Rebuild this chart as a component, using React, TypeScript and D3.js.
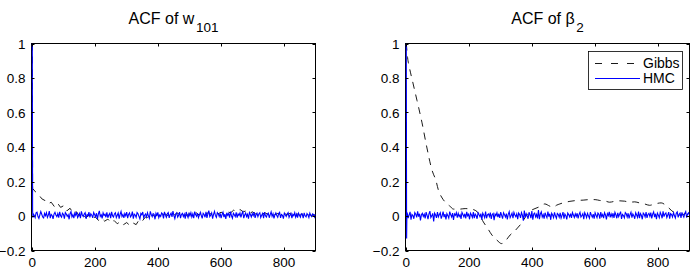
import React from 'react';
import * as d3 from 'd3';

const yTicks = [-0.2, 0, 0.2, 0.4, 0.6, 0.8, 1];
const yTickLabels = ['−0.2', '0', '0.2', '0.4', '0.6', '0.8', '1'];
const xTicks = [0, 200, 400, 600, 800];
const xTickLabels = ['0', '200', '400', '600', '800'];
const legendLabels = ['Gibbs', 'HMC'];
const xDomain = [0, 900];
const yDomain = [-0.2, 1];

// HMC autocorrelations: lags 0,1,2 individually, then every 3 lags from lag 3
const hmcHeadLags = [0, 1, 2];
const hmcW101Head = [1, 0.03, -0.01];
const hmcBeta2Head = [1, -0.13, 0.02];
const hmcTailStart = 3;
const hmcTailStep = 3;
const hmcW101Tail = [
  .012,.004,-.009,.018,.022,-.003,-.014,.007,.026,.01,-.006,-.011,.015,.002,.019,-.008,.005,.028,-.012,.009,
  .003,-.017,.011,.021,.006,-.004,.014,-.01,.024,.001,-.007,.016,.009,-.015,.02,.012,-.002,.007,-.019,.013,
  .025,-.005,.008,-.012,.017,.004,.022,-.009,.001,.015,-.013,.027,.006,-.003,.011,.019,-.016,.008,.002,.023,
  -.008,.013,.005,-.011,.02,.009,-.004,.016,-.018,.012,.03,-.002,.007,-.014,.018,.003,.01,-.007,.021,-.01,
  .006,.015,-.013,.024,.002,-.006,.012,.019,-.009,.004,.017,-.015,.01,.026,-.003,.008,-.011,.014,.001,.022,
  -.012,.009,.018,-.005,.003,.025,-.016,.011,.006,-.008,.02,.013,-.002,-.017,.015,.007,.023,-.01,.004,.012,
  -.006,.019,.001,-.013,.027,.008,-.004,.014,.01,-.019,.016,.003,.021,-.009,.006,-.002,.018,.011,-.014,.024,
  .005,-.008,.013,.02,-.011,.007,.016,-.005,.029,.002,-.015,.01,.018,-.007,.004,.022,-.012,.009,.015,-.003,
  .011,-.016,.023,.006,-.009,.014,.001,.019,-.006,.012,-.013,.025,.008,-.002,.017,-.01,.005,.021,.003,-.014,
  .016,.009,-.007,.024,-.011,.013,.031,-.004,.006,.018,-.015,.01,.027,.002,-.008,.02,.012,-.003,.015,-.012,
  .008,.022,-.006,.011,-.017,.019,.004,.014,-.009,.026,.001,-.013,.016,.007,-.004,.021,-.01,.012,.003,.018,
  -.008,.013,.024,-.012,.006,.017,-.003,.01,-.015,.02,.009,-.006,.014,.002,.023,-.011,.007,.016,-.004,.012,
  .019,-.009,.005,.015,-.013,.022,.001,-.006,.011,.017,-.01,.008,.024,-.002,.013,-.014,.006,.018,.003,-.007,
  .014,.021,-.011,.009,.004,-.015,.017,.007,-.003,.012,.02,-.008,.005,.015,-.012,.01,.002,.019,-.006,.011,
  -.01,.016,.004,-.007,.013,.009,-.012,.018,.001,-.005,.014,.006,-.009,.017,.003,-.004,.012,.008,-.006,.01,
];
const hmcBeta2Tail = [
  .018,-.012,.006,.024,-.021,.009,.003,-.016,.02,.011,-.008,.027,-.004,.013,-.025,.007,.016,-.002,.01,-.014,
  .022,.004,-.018,.012,.028,-.009,.001,.015,-.031,.017,.006,-.011,.023,-.005,.009,.019,-.015,.003,.026,-.007,
  .011,-.02,.014,.002,-.012,.025,.008,-.006,.017,-.023,.012,.004,.02,-.01,.015,-.003,.007,-.017,.021,.009,
  -.005,.013,-.014,.024,.001,.01,-.019,.016,.006,-.008,.022,-.012,.011,.003,-.016,.019,.008,-.004,.014,-.021,
  .017,.005,-.009,.026,-.013,.007,.012,-.003,.02,-.017,.009,.015,-.024,.011,.002,.018,-.007,.013,-.011,.023,
  .004,-.015,.019,.008,-.006,.014,-.02,.01,.025,-.009,.003,.016,-.013,.021,.006,-.004,.012,-.018,.017,.009,
  -.011,.02,.005,-.027,.032,-.008,.014,.002,-.016,.022,.007,-.012,.028,-.021,.011,.017,-.005,.009,-.014,.035,
  -.019,.012,.024,-.006,.008,-.015,.019,.003,-.01,.026,-.004,.013,-.022,.016,.006,-.009,.021,.001,-.013,.015,
  .009,-.007,.018,-.012,.004,.023,-.016,.011,.002,-.02,.017,.008,-.005,.014,-.011,.02,.006,-.008,.012,-.003,
  .016,-.014,.009,.021,-.006,.003,.013,-.018,.019,.007,-.01,.015,.001,-.013,.022,.005,-.007,.011,-.016,.018,
  .004,-.009,.017,.01,-.015,.023,-.003,.008,-.012,.019,.006,-.02,.014,.002,.024,-.008,.012,-.005,.016,-.011,
  .021,.007,-.013,.018,-.004,.011,.025,-.017,.009,.003,-.01,.02,.013,-.006,.016,-.014,.008,.022,-.009,.012,
  .002,-.016,.019,.006,-.008,.026,-.012,.014,.004,-.019,.017,.01,-.005,.023,-.011,.009,.015,-.003,.02,-.014,
  .011,.024,-.007,.013,-.018,.017,.005,-.01,.021,.008,-.013,.027,-.004,.012,.018,-.009,.006,.022,-.015,.014,
  .009,-.006,.019,.003,-.012,.016,.024,-.008,.01,.017,-.011,.021,.005,-.007,.015,.026,-.01,.012,.018,.004,
];

// Gibbs ACF of w_101: lags 0 and 1, then every 10 lags from lag 10
const gibbsW101HeadLags = [0, 1];
const gibbsW101Head = [1, 0.16];
const gibbsW101Start = 10;
const gibbsW101Step = 10;
const gibbsW101 = [
  .14, .125, .1, .09, .07, .08, .055, .075, .05, .06,
  .03, .045, .015, .025, 0, .012, -.01, .004, -.015, -.005,
  -.025, -.012, -.03, -.018, -.038, -.026, -.045, -.032, -.05, -.038,
  -.055, -.04, -.05, -.02, -.028, -.005, -.01, .008, -.004, .01,
  0, .014, .003, .015, .004, .018, .006, .014, .002, .016,
  .006, .02, .006, .022, .01, .02, .008, .018, .012, .022,
  .012, .026, .018, .034, .026, .038, .024, .03, .016, .024,
  .012, .02, .01, .018, .008, .016, .006, .015, .008, .018,
  .007, .016, .005, .014, .004, .012, .003, .01, .002, .008,
];

// Gibbs ACF of beta_2
const gibbsBeta2Lags = [
  0, 4, 10, 20, 34, 50, 65, 81, 95, 102, 112, 124, 137, 150, 170, 187, 205, 219, 232, 245,
  258, 272, 288, 303, 317, 330, 343, 356, 369, 382, 395, 409, 425, 440, 456, 467, 477, 488, 498, 520,
  541, 562, 583, 600, 615, 630, 646, 662, 678, 694, 710, 726, 741, 757, 773, 790, 810, 826, 842, 855,
  868, 882, 895, 900,
];
const gibbsBeta2 = [
  1, .92, .86, .78, .67, .54, .40, .27, .2, .15, .11, .08, .06, .04, .04, .043, .04, .033, .01, -.035,
  -.07, -.11, -.14, -.16, -.14, -.11, -.09, -.064, -.035, .004, .03, .043, .055, .07, .057, .05, .062, .07, .076, .085,
  .09, .092, .095, .095, .09, .088, .08, .085, .088, .086, .08, .082, .076, .07, .062, .07, .076, .06, .033, .015,
  .004, .01, .023, .03,
];

type Pt = [number, number];

const seriesPoints = (headLags: number[], head: number[], start: number, step: number, tail: number[]): Pt[] =>
  head.map((v, i) => [headLags[i], v] as Pt).concat(tail.map((v, i) => [start + step * i, v] as Pt));

const FONT = '"Liberation Sans", Arial, Helvetica, sans-serif';
const TOP = 43.5;
const BOTTOM = 250.5;

function Panel(props: {
  id: string;
  x0: number;
  x1: number;
  title: string;
  sub: string;
  gibbs: Pt[];
  hmc: Pt[];
  smooth: boolean;
  legend: boolean;
}) {
  const { id, x0, x1, title, sub, gibbs, hmc, smooth, legend } = props;
  const x = d3.scaleLinear().domain(xDomain).range([x0 + 0.8, x1]);
  const y = d3.scaleLinear().domain(yDomain).range([BOTTOM, TOP]);
  const line = d3.line<Pt>().x((d) => x(d[0])).y((d) => y(d[1]));
  const gLine = d3
    .line<Pt>()
    .x((d) => x(d[0]))
    .y((d) => y(d[1]))
    .curve(smooth ? d3.curveMonotoneX : d3.curveLinear);
  const tl = 3;
  const cx = (x0 + x1) / 2;
  return (
    <g>
      <defs>
        <clipPath id={id}>
          <rect x={x0 - 0.5} y={TOP} width={x1 - x0 + 0.5} height={BOTTOM - TOP} />
        </clipPath>
      </defs>
      <rect x={x0} y={TOP} width={x1 - x0} height={BOTTOM - TOP} fill="#fff" />
      <rect x={x0} y={TOP} width={x1 - x0} height={BOTTOM - TOP} fill="none" stroke="#000" strokeWidth={1} />
      <g clipPath={`url(#${id})`}>
        <path d={gLine(gibbs) || ''} fill="none" stroke="#000" strokeWidth={0.9} strokeDasharray="7,6" />
        <path d={line(hmc) || ''} fill="none" stroke="#0000ff" strokeWidth={1.1} />
      </g>
      {yTicks.map((t, i) => (
        <g key={'y' + i}>
          <line x1={x0} x2={x0 + tl} y1={Math.round(y(t)) + 0.5} y2={Math.round(y(t)) + 0.5} stroke="#000" strokeWidth={1} />
          <line x1={x1} x2={x1 - tl} y1={Math.round(y(t)) + 0.5} y2={Math.round(y(t)) + 0.5} stroke="#000" strokeWidth={1} />
          <text x={x0 - 6} y={y(t) + 5} textAnchor="end" fontSize={13.5} fontFamily={FONT} fill="#000">
            {yTickLabels[i]}
          </text>
        </g>
      ))}
      {xTicks.map((t, i) => (
        <g key={'x' + i}>
          <line x1={Math.round(x(t)) + 0.5} x2={Math.round(x(t)) + 0.5} y1={BOTTOM} y2={BOTTOM - tl} stroke="#000" strokeWidth={1} />
          <line x1={Math.round(x(t)) + 0.5} x2={Math.round(x(t)) + 0.5} y1={TOP} y2={TOP + tl} stroke="#000" strokeWidth={1} />
          <text x={x(t)} y={266.5} textAnchor="middle" fontSize={13.5} fontFamily={FONT} fill="#000">
            {xTickLabels[i]}
          </text>
        </g>
      ))}
      <text x={cx} y={23.5} textAnchor="middle" fontSize={16} fontFamily={FONT} fill="#000">
        {title}
        <tspan fontSize={13.5} dx={1.5} dy={8}>
          {sub}
        </tspan>
      </text>
      {legend && (
        <g>
          <rect x={588.5} y={51.5} width={94} height={38} fill="#fff" stroke="#000" strokeWidth={0.8} />
          <line x1={595} x2={640} y1={63.5} y2={63.5} stroke="#000" strokeWidth={0.9} strokeDasharray="7,9" />
          <text x={643} y={68} fontSize={14} fontFamily={FONT} fill="#000">
            {legendLabels[0]}
          </text>
          <line x1={595} x2={640} y1={78.5} y2={78.5} stroke="#0000ff" strokeWidth={1} />
          <text x={643} y={83} fontSize={14} fontFamily={FONT} fill="#000">
            {legendLabels[1]}
          </text>
        </g>
      )}
    </g>
  );
}

export default function App() {
  const gW = seriesPoints(gibbsW101HeadLags, gibbsW101Head, gibbsW101Start, gibbsW101Step, gibbsW101);
  const gB = gibbsBeta2.map((v, i) => [gibbsBeta2Lags[i], v] as Pt);
  const hW = seriesPoints(hmcHeadLags, hmcW101Head, hmcTailStart, hmcTailStep, hmcW101Tail);
  const hB = seriesPoints(hmcHeadLags, hmcBeta2Head, hmcTailStart, hmcTailStep, hmcBeta2Tail);
  return (
    <svg
      width={700}
      height={268}
      style={{ position: 'absolute', left: 0, top: 0, background: '#fff' }}
    >
      <rect x={0} y={0} width={700} height={268} fill="#fff" />
      <Panel id="c1" x0={31.5} x1={315.5} title="ACF of w" sub="101" gibbs={gW} hmc={hW} smooth={false} legend={false} />
      <Panel id="c2" x0={405.5} x1={689.5} title="ACF of β" sub="2" gibbs={gB} hmc={hB} smooth={true} legend={true} />
    </svg>
  );
}
